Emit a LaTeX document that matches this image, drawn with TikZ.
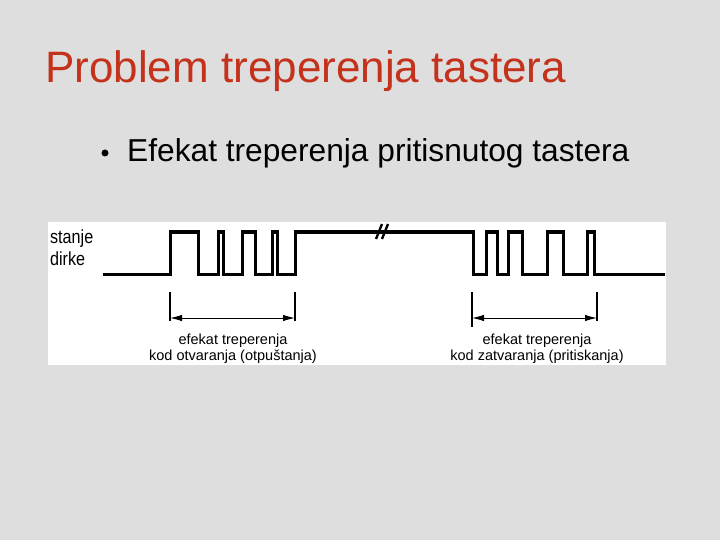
\documentclass[tikz,border=0pt]{standalone}
\usepackage{fontspec}
\setmainfont{Liberation Sans}
\usetikzlibrary{arrows.meta}
\definecolor{titlered}{RGB}{196,50,28}
\definecolor{marble}{RGB}{222,222,222}

\begin{document}
\begin{tikzpicture}[x=1pt, y=-1pt,
    signal/.style={line width=3pt, line join=miter},
    tick/.style={line width=1.3pt},
    span/.style={line width=1pt, {Latex[length=12pt,width=6.5pt]}-{Latex[length=12pt,width=6.5pt]}},
    caption/.style={font=\fontsize{14.5}{16}\selectfont, align=center, inner sep=0pt}]
    % Slide background and the white panel of the figure
    \fill[marble] (0,0) rectangle (720,540);
    \fill[white] (48,222) rectangle (666,365);

    % Slide title and the bullet line
    \node[anchor=base west, inner sep=0pt, text=titlered, font=\fontsize{44}{50}\selectfont]
        (title) at (45,83) {Problem treperenja tastera};
    \fill[black] (105,153) circle (3.5pt); % bullet
    \node[anchor=base west, inner sep=0pt, font=\fontsize{31.7}{36}\selectfont]
        (bullet) at (127,162) {Efekat treperenja pritisnutog tastera};

    % Axis label of the key state
    \node[anchor=north west, inner sep=0pt, align=left, xscale=0.85,
        font=\fontsize{19}{22}\selectfont] (state) at (50,230) {stanje\\dirke};

    % Key signal: low -> bouncing on release -> high -> bouncing on press -> low
    \draw[signal] (103,274) -- (170,274)
        |- (198,232) |- (218,274) |- (223,232) |- (242,274) % left burst
        |- (255,232) |- (272,274) |- (277,232) |- (295,274)
        |- (473,232)                                       % long high level
        |- (486,274) |- (497,232) |- (508,274) |- (522,232) % right burst
        |- (547,274) |- (563,232) |- (587,274) |- (594,232)
        |- (665,274);
    % Break marks on the long high level
    \draw[line width=2.4pt] (376,239) -- (382,224);
    \draw[line width=2.4pt] (382,239) -- (388,224);

    % Duration of the bouncing on release
    \coordinate (openL) at (170,318);
    \coordinate (openR) at (295,318);
    \draw[tick] (openL) ++(0,-26) -- ++(0,29);
    \draw[tick] (openR) ++(0,-26) -- ++(0,29);
    \draw[span] (openL) -- (openR);
    \node[caption, anchor=north] (open) at (233,334)
        {efekat treperenja\\kod otvaranja (otpuštanja)};

    % Duration of the bouncing on press
    \coordinate (closeL) at (472,318);
    \coordinate (closeR) at (597,318);
    \draw[tick] (closeL) ++(0,-26) -- ++(0,35);
    \draw[tick] (closeR) ++(0,-26) -- ++(0,29);
    \draw[span] (closeL) -- (closeR);
    \node[caption, anchor=north] (close) at (537,334)
        {efekat treperenja\\kod zatvaranja (pritiskanja)};
\end{tikzpicture}
\end{document}
